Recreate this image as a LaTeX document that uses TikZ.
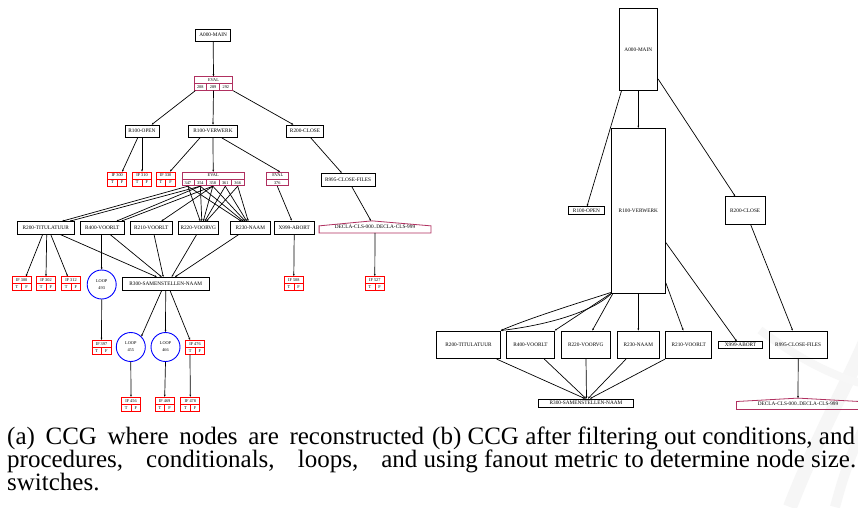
\documentclass[tikz,border=0pt]{standalone}
\usepackage{fontspec}
\setmainfont{Liberation Serif}
\usetikzlibrary{arrows.meta,calc}

\definecolor{condred}{RGB}{255,0,0}
\definecolor{evalred}{RGB}{176,48,96}
\definecolor{loopblue}{RGB}{0,0,255}

\tikzset{
  proc/.style={draw=black, line width=0.9pt, rectangle, inner sep=0pt,
    font=\fontsize{5.3}{6}\selectfont},
  condframe/.style={draw=condred, line width=0.8pt, rectangle, inner sep=0pt,
    minimum width=19pt, minimum height=14pt},
  condline/.style={draw=condred, line width=0.6pt},
  evalframe/.style={draw=evalred, line width=0.8pt, rectangle, inner sep=0pt,
    minimum height=13.6pt},
  evalline/.style={draw=evalred, line width=0.6pt},
  loopnode/.style={draw=loopblue, line width=0.9pt, circle, inner sep=0pt,
    minimum size=29pt, align=center, font=\fontsize{4.3}{7}\selectfont},
  tinytxt/.style={font=\fontsize{4.3}{5}\selectfont, inner sep=0pt},
  rangebox/.style={inner sep=0pt, font=\fontsize{5.3}{6}\selectfont},
  rangeline/.style={draw=evalred, line width=0.8pt},
  edge/.style={line width=0.7pt, -{Stealth[length=2.2pt,width=1.8pt]}},
  captxt/.style={inner sep=0pt, font=\fontsize{25}{25}\selectfont},
}

% conditional record: name, x, y, label
\newcommand{\condbox}[4]{%
  \node[condframe] (#1) at (#2,#3) {};
  \draw[condline] (#1.west) -- (#1.east);
  \draw[condline] (#1.center) -- (#1.south);
  \node[tinytxt] (#1-lab) at ([yshift=3.5pt]#1.center) {#4};
  \node[tinytxt] (#1-t) at ([xshift=-4.75pt,yshift=-3.5pt]#1.center) {T};
  \node[tinytxt] (#1-f) at ([xshift=4.75pt,yshift=-3.5pt]#1.center) {F};
}

% switch record: name, x, y, cells, width, labels
\newcommand{\evalrec}[6]{%
  \node[evalframe, minimum width=#5pt] (#1) at (#2,#3) {};
  \draw[evalline] (#1.west) -- (#1.east);
  \node[tinytxt] (#1-h) at ([yshift=3.4pt]#1.center) {EVAL};
  \foreach \lab [count=\k] in {#6} {
    \pgfmathsetmacro\cxs{(\k-0.5)*#5/#4}
    \pgfmathsetmacro\dxs{(\k-1)*#5/#4}
    \ifnum\k>1
      \draw[evalline] ([xshift=\dxs pt]#1.west) -- ([xshift=\dxs pt]#1.south west);
    \fi
    \node[tinytxt] (#1-l\k) at ([xshift=\cxs pt,yshift=3.4pt]#1.south west) {\lab};
    \coordinate (#1-\k) at ([xshift=\cxs pt]#1.south west);
  }
}

\begin{document}
\begin{tikzpicture}[x=1pt,y=-1pt]
\useasboundingbox (0,0) rectangle (858,507);
\fill[white] (0,0) rectangle (858,507);

% faint publisher mark in the lower right corner
\begin{scope}
\clip (0,0) rectangle (858,507);
\draw[gray!7, line width=14pt] (790,507) .. controls (820,430) and (850,380) .. (870,330);
\draw[gray!7, line width=10pt] (835,507) .. controls (845,470) and (855,440) .. (875,410);
\draw[gray!6, line width=8pt] (760,330) .. controls (800,360) and (840,380) .. (870,385);
\end{scope}

%% ---------------- left graph ----------------
\node[proc, minimum width=35pt, minimum height=12.3pt] (a0) at (213.2,35.2) {A000-MAIN};
\evalrec{ev1}{213.5}{83.5}{3}{38.4}{208,289,292}

\node[proc, minimum width=34pt, minimum height=12.3pt] (ropen) at (142,131.2) {R100-OPEN};
\node[proc, minimum width=49.4pt, minimum height=12.3pt] (rverw) at (213,131.2) {R100-VERWERK};
\node[proc, minimum width=36.6pt, minimum height=12.3pt] (rclose) at (305,131.2) {R200-CLOSE};

\condbox{c300}{117.2}{179}{IF 300}
\condbox{c310}{142}{179}{IF 310}
\condbox{c330}{165.7}{179}{IF 330}
\evalrec{ev2}{213.2}{179}{5}{62.3}{347,354,358,361,366}
\evalrec{ev3}{277.7}{179}{1}{22}{376}
\node[proc, minimum width=54pt, minimum height=12.7pt] (r995) at (348,179.7) {R995-CLOSE-FILES};

\node[rangebox, minimum width=111.4pt, minimum height=11.7pt] (decl) at (375,226.9) {DECLA-CLS-000..DECLA-CLS-999};
\draw[rangeline] (decl.south west) -- ([yshift=-5pt]decl.north west) -- ([xshift=-3pt]decl.north)
  -- ([yshift=-5pt]decl.north east) -- (decl.south east) -- cycle;

\node[proc, minimum width=56.7pt, minimum height=12.3pt] (r200) at (45.7,227.8) {R200-TITULATUUR};
\node[proc, minimum width=43.3pt, minimum height=12.3pt] (r400) at (102.3,227.8) {R400-VOORLT};
\node[proc, minimum width=42.7pt, minimum height=12.3pt] (r210) at (151.3,227.8) {R210-VOORLT};
\node[proc, minimum width=40pt, minimum height=12.3pt] (r220) at (198.3,227.8) {R220-VOORVG};
\node[proc, minimum width=39.3pt, minimum height=12.3pt] (r230) at (250.3,227.8) {R230-NAAM};
\node[proc, minimum width=39.7pt, minimum height=13pt] (rx) at (294.2,227.5) {X999-ABORT};

\condbox{c300b}{21.7}{283.7}{IF 300}
\condbox{c302}{46}{283.7}{IF 302}
\condbox{c312}{71}{283.7}{IF 312}
\node[loopnode] (l493) at (101.7,284.5) {LOOP\\493};
\node[proc, minimum width=86.7pt, minimum height=12.7pt] (r300) at (165.7,283.7) {R300-SAMENSTELLEN-NAAM};
\condbox{c508}{293.8}{283.5}{IF 508}
\condbox{c527}{374.8}{283.5}{IF 527}

\condbox{c397}{101.5}{347.3}{IF 397}
\node[loopnode] (l455) at (130.8,347) {LOOP\\455};
\node[loopnode] (l466) at (165.5,347) {LOOP\\466};
\condbox{c476}{195}{347.3}{IF 476}

\condbox{c456}{131}{404.2}{IF 456}
\condbox{c469}{164.7}{404.2}{IF 469}
\condbox{c478}{190.3}{404.2}{IF 478}

% calls
\draw[edge] (a0.south) -- (ev1.north);
\draw[edge] ([xshift=1.4pt]ev1.south west) -- ([xshift=9.7pt]ropen.north);
\draw[edge] (ev1.south) -- (rverw.north);
\draw[edge] (ev1.south east) -- ([xshift=-11.7pt]rclose.north);

\draw[edge] ([xshift=-4.3pt]ropen.south) -- ([xshift=5pt]c300.north);
\draw[edge] (ropen.south) -- (c310.north);
\draw[edge] ([xshift=-13pt]rverw.south) -- ([xshift=4.3pt]c330.north);
\draw[edge] (rverw.south) -- (ev2.north);
\draw[edge] ([xshift=8.7pt]rverw.south) -- ([xshift=2.3pt]ev3.north);
\draw[edge] ([xshift=5.7pt]rclose.south) -- ([xshift=-6.3pt]r995.north);
\draw[edge] ([xshift=3.7pt]r995.south) -- ([xshift=-4pt]decl.north);
\draw[edge] (ev3-1) -- ([xshift=-2.5pt]rx.north);

% switch branches
\draw[edge] (ev2-1) -- ([xshift=16.3pt]r200.north);
\draw[edge] (ev2-1) -- ([xshift=2pt]r220.north);
\draw[edge] (ev2-1) -- ([xshift=-9pt]r230.north);
\draw[edge] (ev2-2) -- ([xshift=24pt]r200.north);
\draw[edge] (ev2-2) -- ([xshift=14pt]r400.north);
\draw[edge] (ev2-2) -- ([xshift=3.5pt]r220.north);
\draw[edge] (ev2-2) -- ([xshift=-7pt]r230.north);
\draw[edge] (ev2-3) -- ([xshift=19pt]r400.north);
\draw[edge] (ev2-3) -- ([xshift=10pt]r210.north);
\draw[edge] (ev2-3) -- ([xshift=5pt]r220.north);
\draw[edge] (ev2-3) -- ([xshift=-5pt]r230.north);
\draw[edge] (ev2-4) -- ([xshift=6.5pt]r220.north);
\draw[edge] (ev2-4) -- ([xshift=-3.5pt]r230.north);
\draw[edge] (ev2-5) -- ([xshift=8pt]r220.north);
\draw[edge] (ev2-5) -- ([xshift=-2pt]r230.north);

\draw[edge] ([xshift=-3pt]r200.south) -- ([xshift=4.3pt]c300b.north);
\draw[edge] ([xshift=1pt]r200.south) -- (c302.north);
\draw[edge] ([xshift=5pt]r200.south) -- ([xshift=-3.3pt]c312.north);
\draw[edge] ([xshift=14.3pt]r200.south) -- ([xshift=-9pt]r300.north);
\draw[edge] ([xshift=-0.6pt]r400.south) -- (l493.north);
\draw[edge] ([xshift=7.7pt]r400.south) -- ([xshift=-4pt]r300.north);
\draw[edge] ([xshift=2.7pt]r210.south) -- ([xshift=-2.4pt]r300.north);
\draw[edge] ([xshift=-1.6pt]r220.south) -- ([xshift=6pt]r300.north);
\draw[edge] ([xshift=-11.3pt]r230.south) -- ([xshift=9.3pt]r300.north);
\draw[edge] (rx.south) -- (c508.north);
\draw[edge] (decl.south) -- (c527.north);

\draw[edge] (l493.south) -- (c397.north);
\draw[edge] ([xshift=-4pt]r300.south) -- (l455.north east);
\draw[edge] (r300.south) -- (l466.north);
\draw[edge] ([xshift=4.3pt]r300.south) -- ([xshift=-5pt]c476.north);
\draw[edge] (l455.south) -- (c456.north);
\draw[edge] (l466.south) -- (c469.north);
\draw[edge] ([xshift=-5pt]c476.south) -- (c478.north);

%% ---------------- right graph ----------------
\node[proc, minimum width=38.7pt, minimum height=82pt] (ra) at (638.3,49.3) {A000-MAIN};
\node[proc, minimum width=54pt, minimum height=164.7pt] (rv) at (638.3,210.7) {R100-VERWERK};
\node[proc, minimum width=36.4pt, minimum height=7.6pt] (ro) at (586.5,210.5) {R100-OPEN};
\node[proc, minimum width=40.3pt, minimum height=27.6pt] (rc) at (745.2,210.5) {R200-CLOSE};

\node[proc, minimum width=63.6pt, minimum height=27.7pt] (qt) at (468.5,344.8) {R200-TITULATUUR};
\node[proc, minimum width=47.6pt, minimum height=27.7pt] (q400) at (530.5,344.8) {R400-VOORLT};
\node[proc, minimum width=49.7pt, minimum height=27.7pt] (q220) at (585.8,344.8) {R220-VOORVG};
\node[proc, minimum width=42pt, minimum height=27.7pt] (q230) at (638.3,344.8) {R230-NAAM};
\node[proc, minimum width=46pt, minimum height=27.7pt] (q210) at (688.7,344.8) {R210-VOORLT};
\node[proc, minimum width=43.6pt, minimum height=7pt] (qx) at (740.5,345.2) {X999-ABORT};
\node[proc, minimum width=58.3pt, minimum height=27.7pt] (q995) at (798.2,344.8) {R995-CLOSE-FILES};
\node[proc, minimum width=94.6pt, minimum height=8.3pt] (q300) at (586,403.2) {R300-SAMENSTELLEN-NAAM};

\begin{scope}
\clip (0,0) rectangle (858,507);
\node[rangebox, minimum width=122.6pt, minimum height=11pt] (qd) at (798,403.8) {DECLA-CLS-000..DECLA-CLS-999};
\draw[rangeline] (qd.south west) -- ([yshift=-3.4pt]qd.north west) -- (qd.north)
  -- ([yshift=-3.4pt]qd.north east) -- (qd.south east) -- cycle;
\end{scope}

\draw[edge] ([xshift=3pt]ra.south west) -- ([xshift=0.5pt]ro.north);
\draw[edge] (ra.south) -- (rv.north);
\draw[edge] ([yshift=-29.7pt]ra.east) -- ([xshift=-10pt]rc.north);
\draw[edge] ([xshift=5.5pt]rc.south) -- ([xshift=-5.5pt]q995.north);

\draw[edge] ([yshift=1pt]rv.south west) .. controls (575,304) and (530,318) .. (qt.north east);
\draw[edge] ([yshift=-0.5pt]rv.south west) .. controls (590,314) and (540,326) .. (qt.north east);
\draw[edge] (rv.south west) -- (q400.north east);
\draw[edge] ([xshift=2pt]rv.south west) -- ([xshift=6.5pt]q220.north);
\draw[edge] (rv.south) -- (q230.north);
\draw[edge] ([yshift=-72pt]rv.east) -- ([xshift=-5.4pt]q210.north);
\draw[edge] ([yshift=-31.8pt]rv.east) -- ([xshift=-3.8pt]qx.north);
\draw[edge] (q995.south) -- (qd.north);

\draw[edge] ([xshift=28.2pt]qt.south) -- ([xshift=-1pt]q300.north);
\draw[edge] ([xshift=13.8pt]q400.south) -- (q300.north);
\draw[edge] ([xshift=0.2pt]q220.south) -- ([xshift=0.5pt]q300.north);
\draw[edge] ([xshift=-12.3pt]q230.south) -- ([xshift=2pt]q300.north);
\draw[edge] ([xshift=-23.7pt]q210.south) -- ([xshift=4pt]q300.north);

%% ---------------- captions ----------------
\node[captxt, anchor=base west] (capa1) at (7,444)
  {\makebox[417pt][s]{(a) CCG where nodes are reconstructed}};
\node[captxt, anchor=base west] (capb1) at (432,444)
  {(b) CCG after filtering out conditions, and};
\node[captxt, anchor=base west] (cap2) at (7,467)
  {\makebox[849pt][s]{procedures, conditionals, loops, \mbox{and using fanout metric to determine node size.}}};
\node[captxt, anchor=base west] (capa3) at (7,490) {switches.};
\end{tikzpicture}
\end{document}
